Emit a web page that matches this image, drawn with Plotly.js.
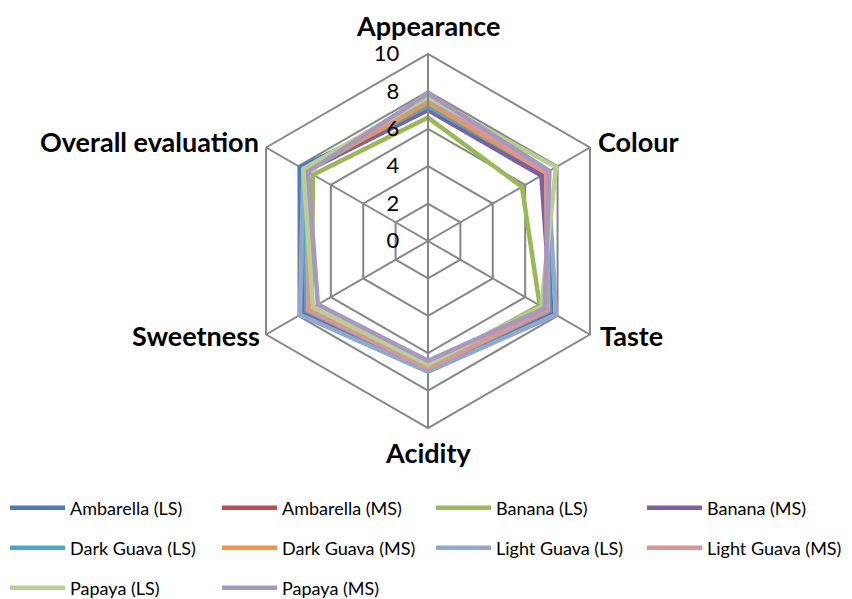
<!DOCTYPE html>
<html>
<head>
<meta charset="utf-8">
<script src="https://cdn.plot.ly/plotly-3.0.1.min.js"></script>
<style>html,body{margin:0;padding:0;background:#fff;}#chart{width:852px;height:599px;}</style>
</head>
<body>
<div id="chart"></div>
<script>
const categories = ["Appearance", "Colour", "Taste", "Acidity", "Sweetness", "Overall evaluation"];
const seriesNames = ["Ambarella (LS)", "Ambarella (MS)", "Banana (LS)", "Banana (MS)", "Dark Guava (LS)", "Dark Guava (MS)", "Light Guava (LS)", "Light Guava (MS)", "Papaya (LS)", "Papaya (MS)"];
const ambarellaLS = [7.2, 7.3, 7.6, 6.9, 7.8, 7.9];
const ambarellaMS = [7.3, 7.2, 7.5, 6.8, 7.5, 7.6];
const bananaLS = [6.6, 5.8, 6.9, 6.7, 7.2, 7.1];
const bananaMS = [7.0, 7.0, 7.6, 6.8, 7.7, 7.5];
const darkGuavaLS = [7.2, 7.3, 7.5, 6.8, 7.5, 7.7];
const darkGuavaMS = [7.4, 7.3, 7.4, 6.7, 7.3, 7.5];
const lightGuavaLS = [7.6, 7.4, 7.9, 7.0, 7.9, 7.7];
const lightGuavaMS = [7.7, 7.3, 7.4, 6.8, 7.4, 7.5];
const papayaLS = [7.7, 7.9, 7.0, 6.6, 7.1, 7.7];
const papayaMS = [7.9, 7.5, 7.2, 6.4, 6.8, 7.4];
const radialTicks = [0, 2, 4, 6, 8, 10];
const radialTickText = ["\u20070", "\u20072", "\u20074", "\u20076", "\u20078", "10"];

const seriesValues = [ambarellaLS, ambarellaMS, bananaLS, bananaMS, darkGuavaLS, darkGuavaMS, lightGuavaLS, lightGuavaMS, papayaLS, papayaMS];
const colors = ["#4A7EBB", "#BE4B48", "#98B954", "#7D60A0", "#46AAC5", "#F69240", "#8EA8D2", "#D99694", "#B7D08F", "#A798C2"];

// layout helpers (px): legend grid and category label placement
const legendCols = [5, 217, 431, 642];
const legendRows = [508, 548, 588];
const catLabelPos = [
  {x: 428, y: 25, xanchor: "center"},
  {x: 596, y: 142, xanchor: "left"},
  {x: 598, y: 335, xanchor: "left"},
  {x: 428, y: 452, xanchor: "center"},
  {x: 262, y: 335, xanchor: "right"},
  {x: 261, y: 142, xanchor: "right"}
];

const traces = seriesValues.map((vals, i) => ({
  type: "scatterpolar",
  r: vals.concat([vals[0]]),
  theta: categories.concat([categories[0]]),
  mode: "lines",
  name: seriesNames[i],
  line: {color: colors[i], width: 4.5},
  legend: i === 0 ? "legend" : "legend" + (i + 1),
  hoverinfo: "skip"
}));

const layout = {
  width: 852,
  height: 599,
  margin: {l: 0, r: 0, t: 0, b: 0, autoexpand: false},
  paper_bgcolor: "#fff",
  showlegend: true,
  polar: {
    domain: {x: [241 / 852, 615 / 852], y: [1 - 428 / 599, 1 - 54 / 599]},
    bgcolor: "rgba(0,0,0,0)",
    gridshape: "linear",
    radialaxis: {
      range: [0, 10],
      tickvals: radialTicks,
      ticktext: radialTickText,
      angle: 90,
      side: "counterclockwise",
      showline: true,
      linecolor: "#868686",
      linewidth: 2,
      gridcolor: "#868686",
      gridwidth: 2,
      ticks: "outside",
      ticklen: 20,
      tickcolor: "rgba(0,0,0,0)",
      tickangle: 90,
      tickfont: {family: "Lato, 'Open Sans', sans-serif", size: 22, color: "#000"}
    },
    angularaxis: {
      direction: "clockwise",
      rotation: 90,
      showline: true,
      linecolor: "#868686",
      linewidth: 2,
      gridcolor: "#868686",
      gridwidth: 2,
      ticks: "",
      showticklabels: false
    }
  },
  annotations: categories.map((c, i) => ({
    text: "<b>" + c + "</b>",
    xref: "paper", yref: "paper",
    x: catLabelPos[i].x / 852,
    y: 1 - catLabelPos[i].y / 599,
    xanchor: catLabelPos[i].xanchor,
    yanchor: "middle",
    showarrow: false,
    font: {family: "Lato, 'Open Sans', sans-serif", size: 27, color: "#000"}
  }))
};

seriesNames.forEach((n, i) => {
  const key = i === 0 ? "legend" : "legend" + (i + 1);
  layout[key] = {
    orientation: "h",
    xanchor: "left",
    yanchor: "middle",
    x: legendCols[i % 4] / 852,
    y: 1 - legendRows[Math.floor(i / 4)] / 599,
    font: {family: "Lato, 'Open Sans', sans-serif", size: 18, color: "#000"},
    bgcolor: "rgba(0,0,0,0)",
    itemwidth: 55
  };
});

Plotly.newPlot("chart", traces, layout, {staticPlot: true}).then(gd => {
  // lengthen legend line samples to match the wider item symbol area
  document.querySelectorAll("#chart .legendlines path").forEach(p => {
    p.setAttribute("d", "M5,0h55");
  });
});
</script>
</body>
</html>
